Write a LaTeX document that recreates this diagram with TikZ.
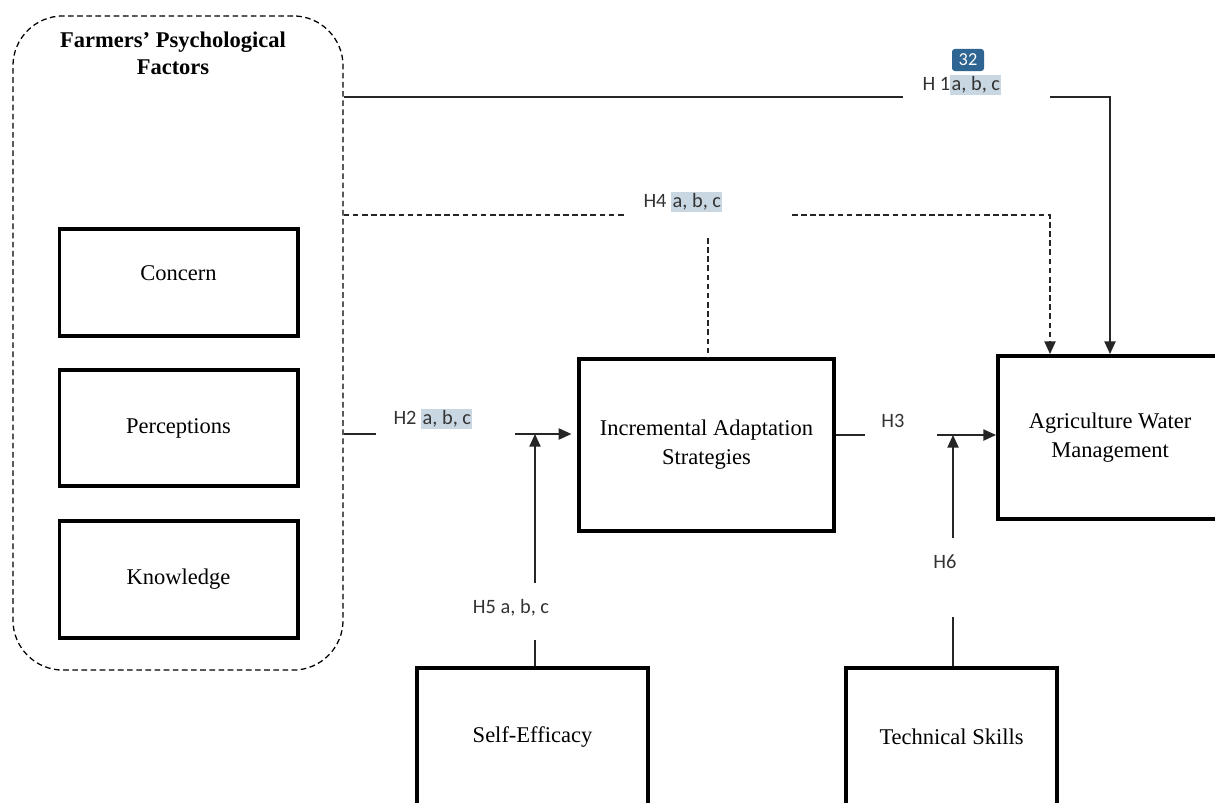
\documentclass[tikz,border=0pt]{standalone}
\usepackage{fontspec}
\setmainfont{Liberation Serif}
\newfontfamily\calibri{Carlito}
\usetikzlibrary{arrows.meta,calc}

\definecolor{hlblue}{HTML}{C9D7E3}
\definecolor{badgeblue}{HTML}{2F6593}
\definecolor{labelgray}{HTML}{333333}

\def\boxLine{2.8pt}
\def\linkLine{1pt}
\newcommand{\hl}[1]{{\setlength{\fboxsep}{1pt}\colorbox{hlblue}{#1}}}

\tikzset{
    conceptbox/.style = {draw, line width = \boxLine, inner sep = 0pt,
        align = center, font = \fontsize{16}{20.5}\selectfont},
    groupbox/.style = {draw, line width = 0.9pt, rounded corners = 1.25cm,
        dash pattern = on 4pt off 2.5pt, inner sep = 0pt},
    hyplabel/.style = {inner sep = 0pt, text = labelgray,
        font = \calibri\fontsize{14.5}{16}\selectfont},
    link/.style = {line width = \linkLine, draw = black!85},
    dlink/.style = {link, dash pattern = on 4pt off 2.5pt},
    arrowlink/.style = {link, -{Triangle[length = 9pt, width = 8pt]}},
    badge/.style = {fill = badgeblue, text = white, rounded corners = 2pt,
        minimum width = 0.8cm, minimum height = 0.55cm, inner sep = 0pt,
        font = \calibri\fontsize{13}{15}\selectfont},
}

\begin{document}
\begin{tikzpicture}[x = 0.025cm, y = -0.025cm]
    \useasboundingbox (0,0) rectangle (1215,802);

    %% farmers' psychological factors
    \node [groupbox, minimum width = 8.25cm, minimum height = 16.35cm]
        (fpf) at (178,343) {};
    \node [align = center, font = \bfseries\fontsize{16}{19}\selectfont]
        (fpftitle) at (173,53) {Farmers’ Psychological\\Factors};
    \node [conceptbox, minimum width = 5.95cm, minimum height = 2.675cm,
        text depth = 14pt] (concern) at (178.5,282.5) {Concern};
    \node [conceptbox, minimum width = 5.95cm, minimum height = 2.9cm]
        (perceptions) at (178.5,428) {Perceptions};
    \node [conceptbox, minimum width = 5.95cm, minimum height = 2.925cm]
        (knowledge) at (178.5,579.5) {Knowledge};

    %% main constructs
    \node [conceptbox, minimum width = 6.375cm, minimum height = 4.3cm]
        (iad) at (706.5,445) {Incremental Adaptation\\Strategies};
    \node [conceptbox, minimum width = 5.6cm, minimum height = 4.075cm]
        (awm) at (1110,437.5) {Agriculture Water\\Management};
    \node [conceptbox, minimum width = 5.775cm, minimum height = 3.45cm]
        (selfeff) at (532.5,737) {Self-Efficacy};
    \node [conceptbox, minimum width = 5.275cm, minimum height = 3.45cm]
        (techskill) at (951.5,737) {Technical Skills};

    %% hypothesis labels
    \node [hyplabel] (h1) at (962,85) {H 1\hl{a, b, c}};
    \node [badge] (h1badge) at (968,60) {32};
    \node [hyplabel] (h4) at (683,202) {H4 \hl{a, b, c}};
    \node [hyplabel] (h2) at (433,419) {H2 \hl{a, b, c}};
    \node [hyplabel] (h3) at (893,421) {H3};
    \node [hyplabel] (h5) at (511,608) {H5 a, b, c};
    \node [hyplabel] (h6) at (945,562) {H6};

    %% free ends of the connectors
    \coordinate (h1l) at (903,97);
    \coordinate (h1r) at (1050,97);
    \coordinate (h4l) at (627,215);
    \coordinate (h4r) at (792,215);
    \coordinate (h4v) at (708,238);
    \coordinate (h2l) at (376,434);
    \coordinate (h2r) at (515,434);
    \coordinate (h5t) at (535,583);
    \coordinate (h5b) at (535,640);
    \coordinate (h3l) at (865,435);
    \coordinate (h3r) at (937,435);
    \coordinate (h6t) at (953,538);
    \coordinate (h6b) at (953,617);

    %% H1
    \draw [link] (fpf.east |- h1l) -- (h1l);
    \draw [arrowlink] (h1r) -| (awm.north);
    %% H4
    \draw [dlink] (fpf.east |- h4l) -- (h4l);
    \draw [dlink, -{Triangle[length = 9pt, width = 8pt]}]
        (h4r) -| ($(awm.north) + (-60,0)$);
    \draw [dlink] (h4v) -- (h4v |- iad.north);
    %% H2 and H5
    \draw [link] (fpf.east |- h2l) -- (h2l);
    \draw [arrowlink, shorten > = 4pt] (h2r) -- (iad.west |- h2r);
    \draw [arrowlink] (h5t) -- (h5t |- h2r);
    \draw [link] (h5b) -- (h5b |- selfeff.north);
    %% H3 and H6
    \draw [link] (iad.east |- h3l) -- (h3l);
    \draw [arrowlink] (h3r) -- (awm.west |- h3r);
    \draw [arrowlink] (h6t) -- (h6t |- h3r);
    \draw [link] (h6b) -- (h6b |- techskill.north);
\end{tikzpicture}
\end{document}
